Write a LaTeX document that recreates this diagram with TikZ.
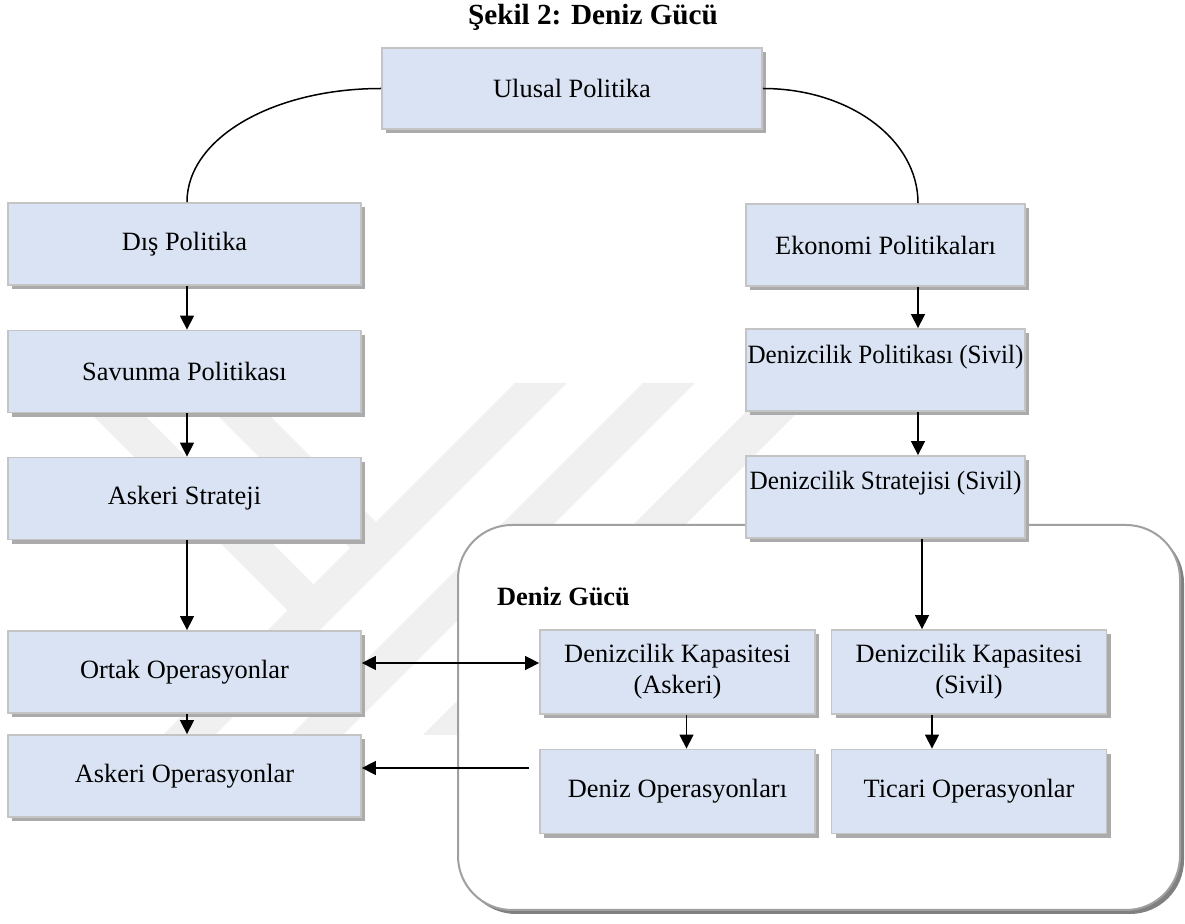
\documentclass[tikz,border=0pt]{standalone}
\usepackage{fontspec}
\setmainfont{Liberation Serif}
\usetikzlibrary{arrows.meta,shadows,calc}

\definecolor{boxfill}{HTML}{DAE3F3}
\definecolor{boxline}{HTML}{C4C4C4}
\definecolor{markgray}{HTML}{F0F0F0}
\definecolor{framegray}{HTML}{A0A0A0}

\begin{document}
\begin{tikzpicture}[x=0.5pt,y=-0.5pt,
  every node/.style={font=\fontsize{13.2pt}{15.4pt}\selectfont},
  box/.style={draw=boxline,line width=0.9pt,fill=boxfill,align=center,inner sep=0pt,
    drop shadow={shadow xshift=2.2pt,shadow yshift=-2.2pt,fill=black!33,opacity=1}},
  leftbox/.style={box,minimum width=176.5pt,minimum height=41pt},
  rightbox/.style={box,minimum width=139.5pt,minimum height=41pt},
  innerbox/.style={box,minimum width=137.5pt,minimum height=42pt},
  conn/.style={line width=0.75pt,draw=black},
  arr/.style={conn,-{Triangle[length=7pt,width=7pt]}},
  arrtwo/.style={conn,{Triangle[length=7pt,width=7pt]}-{Triangle[length=7pt,width=7pt]}},
  headline/.style={font=\fontsize{14.6pt}{17pt}\selectfont\bfseries},
  grouplabel/.style={font=\fontsize{13.2pt}{15.4pt}\selectfont\bfseries},
  wmband/.style={fill=markgray,draw=none}
]
% page
\fill[white] (0,0) rectangle (1185,924);
\useasboundingbox (0,0) rectangle (1185,924);

% faint background emblem of diagonal bands
\fill[wmband] (515,383) -- (567,383) -- (215,735) -- (163,735) -- cycle;
\fill[wmband] (643,383) -- (695,383) -- (343,735) -- (291,735) -- cycle;
\fill[wmband] (775,383) -- (827,383) -- (475,735) -- (423,735) -- cycle;
\fill[wmband] (60,383) -- (112,383) -- (338.5,609.5) -- (312.5,635.5) -- cycle;
\fill[wmband] (185,383) -- (237,383) -- (401,547) -- (375,573) -- cycle;

% title
\node[headline] (title) at (593,17) {Şekil 2: Deniz Gücü};

% sea power frame
\node[draw=framegray,line width=1pt,fill=white,rounded corners=27pt,
      minimum width=361pt,minimum height=192.5pt,inner sep=0pt,
      drop shadow={shadow xshift=2pt,shadow yshift=-2pt,fill=black!50,opacity=1}]
      (frame) at (819,717.5) {};
\node[grouplabel] (framelabel) at (563.5,597) {Deniz Gücü};

% top box
\node[box,minimum width=190pt,minimum height=40.5pt] (ulusal) at (572,88.5) {Ulusal Politika};

% left column
\node[leftbox] (dis)   at (184.5,244)   {Dış Politika};
\node[leftbox] (sav)   at (184.5,371.5) {Savunma Politikası};
\node[leftbox] (ast)   at (184.5,498.5) {Askeri Strateji};
\node[leftbox] (ortak) at (184.5,672)   {Ortak Operasyonlar};
\node[leftbox] (asop)  at (184.5,776)   {Askeri Operasyonlar};

% right column
\node[rightbox] (eko)  at (885.5,245) {Ekonomi Politikaları};
\node[rightbox,label={[yshift=6.5pt]center:\scalebox{0.95}[1]{Denizcilik Politikası (Sivil)}}] (dpol) at (885.5,370) {};
\node[rightbox,label={[yshift=7pt]center:\scalebox{0.955}[1]{Denizcilik Stratejisi (Sivil)}}] (dstr) at (885.5,497) {};

% boxes inside the frame
\node[innerbox] (kapa)   at (677.5,672)  {Denizcilik Kapasitesi\\(Askeri)};
\node[innerbox] (kaps)   at (969,672)    {Denizcilik Kapasitesi\\(Sivil)};
\node[innerbox] (denop)  at (677.5,791.5){Deniz Operasyonları};
\node[innerbox] (ticari) at (969,791.5)  {Ticari Operasyonlar};

% column guide for the right-hand connectors
\coordinate (rcol) at (918,0);
\coordinate (rcolb) at (922,0);

% curved links from the top box
\draw[conn] (ulusal.west) .. controls +(-108,0) and +(0,-64) .. ($(dis.north)+(2.5,0)$);
\draw[conn] (ulusal.east) .. controls +(86,0) and +(0,-64) .. (eko.north -| rcol);

% left column arrows
\draw[arr] ($(dis.south)+(2.5,0)$) -- ($(sav.north)+(2.5,0)$);
\draw[arr] ($(sav.south)+(2.5,0)$) -- ($(ast.north)+(2.5,0)$);
\draw[arr] ($(ast.south)+(2.5,0)$) -- ($(ortak.north)+(2.5,0)$);
\draw[arr] ($(ortak.south)+(2.5,0)$) -- ($(asop.north)+(2.5,0)$);

% right column arrows
\draw[arr] (eko.south -| rcol) -- (dpol.north -| rcol);
\draw[arr] (dpol.south -| rcol) -- (dstr.north -| rcol);
\draw[arr] (dstr.south -| rcolb) -- (kaps.north -| rcolb);

% arrows inside the frame
\draw[arr] ($(kapa.south)+(9,0)$) -- ($(denop.north)+(9,0)$);
\draw[arr] ($(kaps.south)+(-37,0)$) -- ($(ticari.north)+(-37,0)$);

% links across the frame
\draw[arrtwo] ($(ortak.east)+(0,-9)$) -- ($(ortak.east -| kapa.west)+(0,-9)$);
\draw[arr] ($(denop.west |- asop.east)+(-10,-8)$) -- ($(asop.east)+(0,-8)$);
\end{tikzpicture}
\end{document}
